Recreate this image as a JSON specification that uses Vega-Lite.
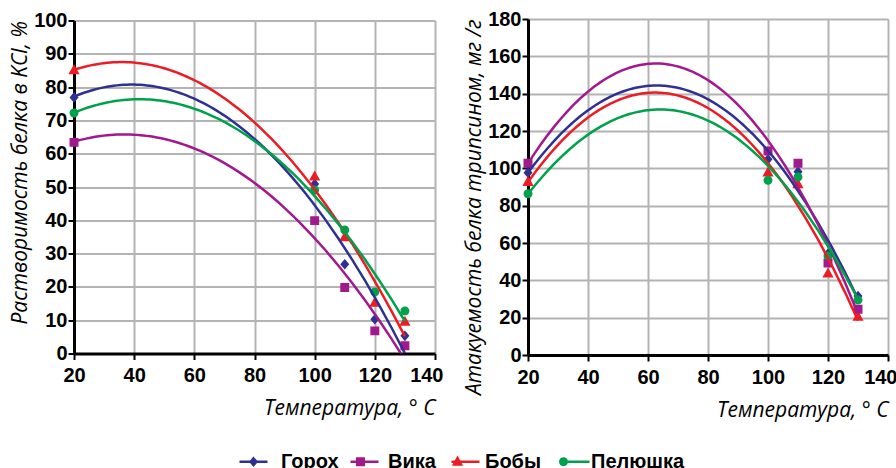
{
  "$schema": "https://vega.github.io/schema/vega-lite/v6.json",
  "background": "white",
  "padding": {"left": 9, "top": 9, "right": 0, "bottom": 0},
  "spacing": 20,
  "center": true,
  "datasets": {
    "sol": [
      {"sort": "Горох", "t": 20, "v": 76.9}, {"sort": "Горох", "t": 100, "v": 50.9}, {"sort": "Горох", "t": 110, "v": 26.8}, {"sort": "Горох", "t": 120, "v": 10.3}, {"sort": "Горох", "t": 130, "v": 5.3},
      {"sort": "Вика", "t": 20, "v": 63.4}, {"sort": "Вика", "t": 100, "v": 39.9}, {"sort": "Вика", "t": 110, "v": 19.8}, {"sort": "Вика", "t": 120, "v": 6.8}, {"sort": "Вика", "t": 130, "v": 2.3},
      {"sort": "Бобы", "t": 20, "v": 85.0}, {"sort": "Бобы", "t": 100, "v": 53.1}, {"sort": "Бобы", "t": 110, "v": 34.9}, {"sort": "Бобы", "t": 120, "v": 15.2}, {"sort": "Бобы", "t": 130, "v": 9.5},
      {"sort": "Пелюшка", "t": 20, "v": 72.2}, {"sort": "Пелюшка", "t": 100, "v": 49.1}, {"sort": "Пелюшка", "t": 110, "v": 37.1}, {"sort": "Пелюшка", "t": 120, "v": 18.5}, {"sort": "Пелюшка", "t": 130, "v": 12.8}
    ],
    "att": [
      {"sort": "Горох", "t": 20, "v": 97.7}, {"sort": "Горох", "t": 100, "v": 104.8}, {"sort": "Горох", "t": 110, "v": 98.2}, {"sort": "Горох", "t": 120, "v": 54.3}, {"sort": "Горох", "t": 130, "v": 31.6},
      {"sort": "Вика", "t": 20, "v": 102.7}, {"sort": "Вика", "t": 100, "v": 109.3}, {"sort": "Вика", "t": 110, "v": 102.7}, {"sort": "Вика", "t": 120, "v": 49.3}, {"sort": "Вика", "t": 130, "v": 24.5},
      {"sort": "Бобы", "t": 20, "v": 92.7}, {"sort": "Бобы", "t": 100, "v": 97.7}, {"sort": "Бобы", "t": 110, "v": 91.4}, {"sort": "Бобы", "t": 120, "v": 43.6}, {"sort": "Бобы", "t": 130, "v": 20.4},
      {"sort": "Пелюшка", "t": 20, "v": 86.4}, {"sort": "Пелюшка", "t": 100, "v": 93.6}, {"sort": "Пелюшка", "t": 110, "v": 95.4}, {"sort": "Пелюшка", "t": 120, "v": 53.0}, {"sort": "Пелюшка", "t": 130, "v": 29.5}
    ]
  },
  "config": {
    "view": {"stroke": null},
    "axis": {
      "domainColor": "black", "domainWidth": 3, "tickColor": "black", "tickWidth": 2, "tickSize": 6,
      "gridColor": "#b3b3b3", "gridWidth": 2, "labelOverlap": false, "labelBound": false,
      "labelFont": "Liberation Sans", "labelFontWeight": "bold", "labelFontSize": 20, "labelColor": "black",
      "titleFont": "Open Sans", "titleFontStyle": "italic", "titleFontWeight": "normal", "titleFontSize": 21, "titleColor": "black"
    },
    "axisX": {"labelPadding": 6, "titlePadding": 12, "titleAnchor": "end"},
    "axisY": {"labelPadding": 1, "titlePadding": 3, "titleAnchor": "end"},
    "legend": {
      "orient": "none", "direction": "horizontal", "columns": 4, "title": null, "columnPadding": 6,
      "symbolSize": 784, "symbolStrokeWidth": 2.5, "labelOffset": 12, "legendX": 164, "legendY": 427,
      "labelFont": "Liberation Sans", "labelFontWeight": "bold", "labelFontSize": 20, "labelColor": "black"
    }
  },
  "hconcat": [
    {
      "width": 361, "height": 333,
      "data": {"name": "sol"},
      "encoding": {
        "x": {"field": "t", "type": "quantitative", "scale": {"domain": [20, 140], "nice": false},
              "axis": {"values": [20, 40, 60, 80, 100, 120, 140], "title": "Температура, ° C",
                       "labelAlign": {"condition": {"test": "datum.value === 140", "value": "right"}, "value": "center"},
                       "labelOffset": {"condition": {"test": "datum.value === 140", "value": 8}, "value": 0}}},
        "y": {"field": "v", "type": "quantitative", "scale": {"domain": [0, 100], "nice": false},
              "axis": {"values": [0, 10, 20, 30, 40, 50, 60, 70, 80, 90, 100], "title": "Растворимость белка в KCl, %"}}
      },
      "layer": [
        {
          "mark": {"type": "point", "filled": true, "opacity": 1},
          "encoding": {
            "color": {"field": "sort", "type": "nominal",
                      "scale": {"domain": ["Горох", "Вика", "Бобы", "Пелюшка"], "range": ["#2e3192", "#a2198d", "#ed1c24", "#00a14b"]},
                      "legend": {"symbolStrokeWidth": 2.5}},
            "shape": {"field": "sort", "type": "nominal",
                      "scale": {"domain": ["Горох", "Вика", "Бобы", "Пелюшка"],
                                "range": ["M-1,0H1M0,-0.38L0.32,0L0,0.38L-0.32,0Z", "M-1,0H1M-0.32,-0.32H0.32V0.32H-0.32Z", "M-1,0H1M0,-0.44L0.4,0.28H-0.4Z", "M-1,0H1M0.32,0A0.32,0.32,0,1,1,-0.32,0A0.32,0.32,0,1,1,0.32,0Z"]},
                      "legend": {"symbolStrokeWidth": 2.5}},
            "size": {"value": 784}
          }
        },
        {
          "transform": [{"regression": "v", "on": "t", "groupby": ["sort"], "method": "poly", "order": 2, "extent": [20, 130]}],
          "mark": {"type": "line", "clip": true, "strokeWidth": 2.5},
          "encoding": {
            "stroke": {"field": "sort", "type": "nominal", "sort": ["Горох", "Вика", "Бобы", "Пелюшка"],
                       "scale": {"range": ["#2e3192", "#a2198d", "#ed1c24", "#00a14b"]},
                       "legend": {"symbolType": "stroke", "symbolStrokeWidth": 2.5, "labelOpacity": 0}}
          }
        }
      ]
    },
    {
      "width": 360, "height": 336,
      "data": {"name": "att"},
      "encoding": {
        "x": {"field": "t", "type": "quantitative", "scale": {"domain": [20, 140], "nice": false},
              "axis": {"values": [20, 40, 60, 80, 100, 120, 140], "title": "Температура, ° C",
                       "labelAlign": {"condition": {"test": "datum.value === 140", "value": "right"}, "value": "center"},
                       "labelOffset": {"condition": {"test": "datum.value === 140", "value": 9}, "value": 0}}},
        "y": {"field": "v", "type": "quantitative", "scale": {"domain": [0, 180], "nice": false},
              "axis": {"values": [0, 20, 40, 60, 80, 100, 120, 140, 160, 180], "title": "Атакуемость белка трипсином, мг /г"}}
      },
      "layer": [
        {
          "mark": {"type": "point", "filled": true, "opacity": 1},
          "encoding": {
            "color": {"field": "sort", "type": "nominal"},
            "shape": {"field": "sort", "type": "nominal"},
            "size": {"value": 784}
          }
        },
        {
          "transform": [{"regression": "v", "on": "t", "groupby": ["sort"], "method": "poly", "order": 2, "extent": [20, 130]}],
          "mark": {"type": "line", "clip": true, "strokeWidth": 2.5},
          "encoding": {
            "stroke": {"field": "sort", "type": "nominal", "sort": ["Горох", "Вика", "Бобы", "Пелюшка"]}
          }
        }
      ]
    }
  ],
  "resolve": {"scale": {"y": "independent", "x": "independent"}}
}
